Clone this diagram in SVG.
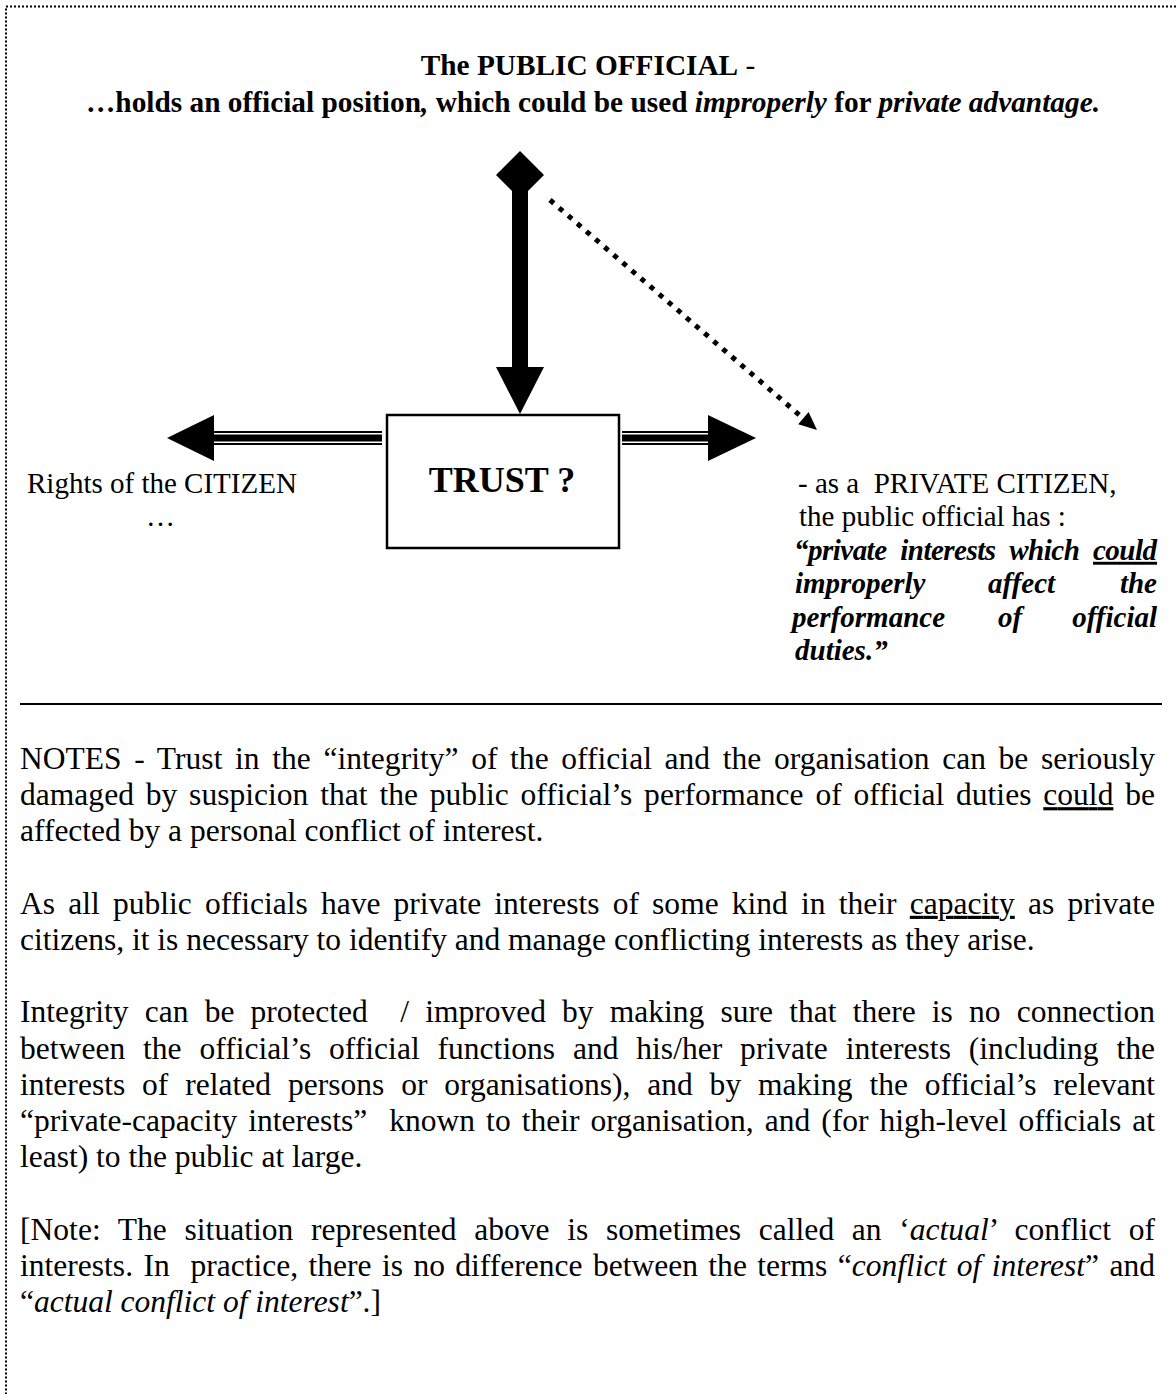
<svg xmlns="http://www.w3.org/2000/svg" width="1176" height="1394" viewBox="0 0 1176 1394">
<style>
  text { font-family: "Liberation Serif", "Times New Roman", serif; fill: #000; }
  .d { font-size: 29px; }
  .t { font-size: 29.3px; font-weight: bold; }
  .n { font-size: 31.5px; }
  .b { font-weight: bold; }
  .i { font-style: italic; }
  .bi { font-weight: bold; font-style: italic; }
  .u { text-decoration: underline; }
  .solid { fill: #000; stroke: none; }
</style>
<rect x="0" y="0" width="1176" height="1394" fill="#fff"/>
<rect id="frame" x="6" y="6.5" width="1200" height="1420" fill="none" stroke="#000" stroke-width="2" stroke-dasharray="2 2"/>

<g id="title">
  <text class="t" x="588" y="75" text-anchor="middle">The PUBLIC OFFICIAL<tspan font-weight="normal"> -</tspan></text>
  <text class="t" x="86" y="112" textLength="1014" lengthAdjust="spacingAndGlyphs">…holds an official position<tspan class="i">,</tspan> which could be used <tspan class="i">improperly</tspan> for <tspan class="i">private advantage.</tspan></text>
</g>

<g id="connectors">
  <g id="official-to-trust">
    <polygon class="solid" points="520,151 544,175 520,199 496,175"/>
    <rect class="solid" x="512" y="180" width="16" height="188"/>
    <polygon class="solid" points="496,367 544,367 520,414"/>
  </g>
  <g id="official-to-private">
    <line x1="550" y1="200" x2="804" y2="419" stroke="#000" stroke-width="5" stroke-dasharray="5 7"/>
    <polygon class="solid" points="817,430 798.2,424.3 808.6,412.1"/>
  </g>
  <g id="trust-to-citizen">
    <rect class="solid" x="212" y="431" width="170" height="2"/>
    <rect class="solid" x="212" y="434.5" width="170" height="7"/>
    <rect class="solid" x="212" y="443" width="170" height="2"/>
    <polygon class="solid" points="167,438 214,415 214,461"/>
  </g>
  <g id="trust-to-private">
    <rect class="solid" x="622" y="431" width="88" height="2"/>
    <rect class="solid" x="622" y="434.5" width="88" height="7"/>
    <rect class="solid" x="622" y="443" width="88" height="2"/>
    <polygon class="solid" points="756,438 708,415 708,461"/>
  </g>
</g>

<g id="trust">
  <rect x="387" y="415" width="232" height="133" fill="#fff" stroke="#000" stroke-width="2.5"/>
  <text class="b" font-size="36" x="502" y="492" text-anchor="middle">TRUST ?</text>
</g>

<g id="citizen-rights">
  <text class="d" x="27" y="493">Rights of the CITIZEN</text>
  <text class="d" x="146" y="526">…</text>
</g>

<g id="private-citizen">
  <text class="d" x="798" y="493">- as a &#160;PRIVATE CITIZEN,</text>
  <text class="d" x="799" y="526.4">the public official has :</text>
  <text class="d bi" x="794" y="559.8" style="word-spacing:7px" textLength="363" lengthAdjust="spacing">“private interests which <tspan class="u">could</tspan></text>
  <text class="d bi" x="795" y="593.2">improperly</text>
  <text class="d bi" x="988" y="593.2">affect</text>
  <text class="d bi" x="1157" y="593.2" text-anchor="end">the</text>
  <text class="d bi" x="792" y="626.6">performance</text>
  <text class="d bi" x="998" y="626.6">of</text>
  <text class="d bi" x="1157" y="626.6" text-anchor="end">official</text>
  <text class="d bi" x="795" y="660">duties.”</text>
</g>

<line id="divider" x1="20" y1="704" x2="1162" y2="704" stroke="#000" stroke-width="2.2"/>

<g id="notes">
  <text class="n" x="20" y="769" style="word-spacing:4.7px" textLength="1135" lengthAdjust="spacing">NOTES - Trust in the “integrity” of the official and the organisation can be seriously</text>
  <text class="n" x="20" y="805.2" style="word-spacing:3.9px" textLength="1135" lengthAdjust="spacing">damaged by suspicion that the public official’s performance of official duties <tspan class="u">could</tspan> be</text>
  <text class="n" x="20" y="841.4">affected by a personal conflict of interest.</text>

  <text class="n" x="20" y="913.8" style="word-spacing:5.3px" textLength="1135" lengthAdjust="spacing">As all public officials have private interests of some kind in their <tspan class="u">capacity</tspan> as private</text>
  <text class="n" x="20" y="950">citizens, it is necessary to identify and manage conflicting interests as they arise.</text>

  <text class="n" x="20" y="1022.4" style="word-spacing:8.3px" textLength="1135" lengthAdjust="spacing">Integrity can be protected &#160;/ improved by making sure that there is no connection</text>
  <text class="n" x="20" y="1058.6" style="word-spacing:9.9px" textLength="1135" lengthAdjust="spacing">between the official’s official functions and his/her private interests (including the</text>
  <text class="n" x="20" y="1094.8" style="word-spacing:8.9px" textLength="1135" lengthAdjust="spacing">interests of related persons or organisations), and by making the official’s relevant</text>
  <text class="n" x="20" y="1131" style="word-spacing:3.1px" textLength="1135" lengthAdjust="spacing">“private-capacity interests” &#160;known to their organisation, and (for high-level officials at</text>
  <text class="n" x="20" y="1167.2">least) to the public at large.</text>

  <text class="n" x="20" y="1239.6" style="word-spacing:9.7px" textLength="1135" lengthAdjust="spacing">[Note: The situation represented above is sometimes called an ‘<tspan class="i">actual</tspan>’ conflict of</text>
  <text class="n" x="20" y="1275.8" style="word-spacing:2.5px" textLength="1135" lengthAdjust="spacing">interests. In &#160;practice, there is no difference between the terms “<tspan class="i">conflict of interest</tspan>” and</text>
  <text class="n" x="20" y="1312">“<tspan class="i">actual conflict of interest</tspan>”.]</text>
</g>
</svg>
